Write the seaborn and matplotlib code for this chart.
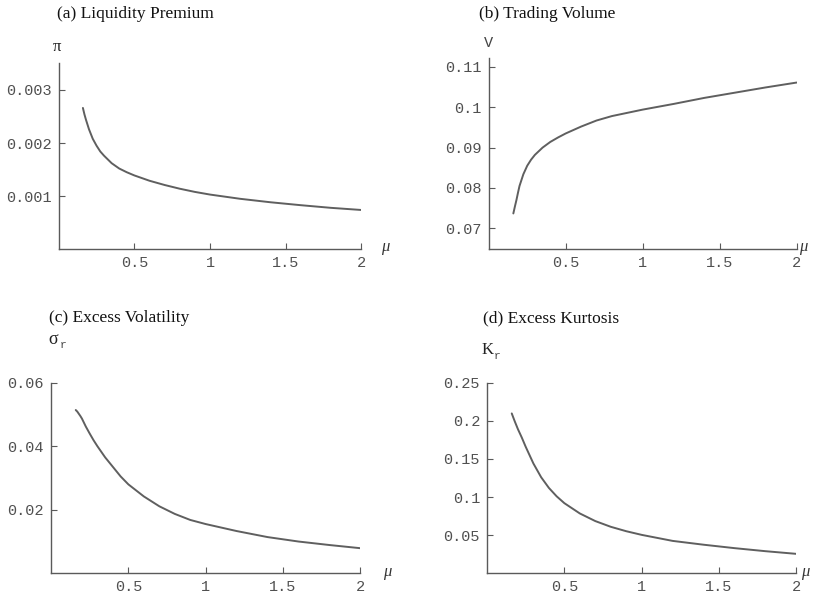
import numpy as np
import pandas as pd
import seaborn as sns
import matplotlib.pyplot as plt

# ---------------- data ----------------
mu = [0.16, 0.17, 0.18, 0.19, 0.2, 0.225, 0.25, 0.275, 0.3, 0.35, 0.4, 0.45, 0.5,
      0.6, 0.7, 0.8, 0.9, 1.0, 1.2, 1.4, 1.6, 1.8, 2.0]

liquidity_premium = [0.00266, 0.00254, 0.00244, 0.00235, 0.00226, 0.00208, 0.00195,
                     0.00184, 0.00176, 0.00162, 0.00152, 0.00145, 0.00139, 0.00129,
                     0.00121, 0.00114, 0.00108, 0.00103, 0.00095, 0.000885, 0.00083,
                     0.00078, 0.00074]

trading_volume = [0.0737, 0.0754, 0.0770, 0.0788, 0.0805, 0.0834, 0.0855, 0.0870,
                  0.0882, 0.0900, 0.0914, 0.0925, 0.0935, 0.0952, 0.0967, 0.0978,
                  0.0986, 0.0994, 0.1008, 0.1023, 0.1036, 0.1049, 0.1061]

excess_volatility = [0.0514, 0.0509, 0.0502, 0.0495, 0.0487, 0.0462, 0.0440, 0.0419,
                     0.0400, 0.0365, 0.0335, 0.0305, 0.0280, 0.0242, 0.0211, 0.0187,
                     0.0168, 0.0155, 0.0133, 0.0114, 0.0100, 0.0089, 0.0079]

excess_kurtosis = [0.2097, 0.2043, 0.199, 0.194, 0.189, 0.178, 0.166, 0.155, 0.144,
                   0.126, 0.112, 0.101, 0.092, 0.0785, 0.0685, 0.0610, 0.0552,
                   0.0504, 0.0425, 0.0375, 0.0330, 0.0290, 0.0255]

x_ticks = [0.5, 1, 1.5, 2]
x_ticklabels = ["0.5", "1", "1.5", "2"]

titles = ["(a) Liquidity Premium", "(b) Trading Volume",
          "(c) Excess Volatility", "(d) Excess Kurtosis"]

y_ticks = [[0.001, 0.002, 0.003],
           [0.07, 0.08, 0.09, 0.1, 0.11],
           [0.02, 0.04, 0.06],
           [0.05, 0.1, 0.15, 0.2, 0.25]]
y_ticklabels = [["0.001", "0.002", "0.003"],
                ["0.07", "0.08", "0.09", "0.1", "0.11"],
                ["0.02", "0.04", "0.06"],
                ["0.05", "0.1", "0.15", "0.2", "0.25"]]
y_limits = [(0, 0.0035), (0.0649, 0.1121), (0, 0.06), (0, 0.25)]

series = [liquidity_premium, trading_volume, excess_volatility, excess_kurtosis]

# ---------------- layout (pixels) ----------------
W, H = 825, 595
# left, right, top, bottom of each axes box in pixels
boxes = [(58.7, 361.3, 63.3, 249.3),
         (488.7, 796.7, 58.3, 249.0),
         (51.0, 360.4, 382.7, 573.3),
         (487.0, 796.4, 382.7, 573.3)]
title_pos = [(57, 14), (479, 14), (49, 318), (483, 318)]
mu_pos = [(385, 247), (803, 247), (387, 572), (805, 572)]

sns.set_style("ticks")
plt.rcParams["font.family"] = ["DejaVu Sans"]

line_col = "#5f5f5f"
axis_col = "#5a5a5a"
tick_font = "Liberation Mono"
serif = "Liberation Serif"

fig = plt.figure(figsize=(W / 100, H / 100), dpi=100)


def fx(x):
    return x / W


def fy(y):
    return 1 - y / H


for i in range(4):
    l, r, t, b = boxes[i]
    ax = fig.add_axes([fx(l), fy(b), (r - l) / W, (b - t) / H])
    df = pd.DataFrame({"mu": mu, "val": series[i]})
    sns.lineplot(data=df, x="mu", y="val", ax=ax, color=line_col, linewidth=1.4)

    ax.set_xlim(0, 2)
    ax.set_ylim(*y_limits[i])
    ax.set_xticks(x_ticks)
    ax.set_xticklabels(x_ticklabels)
    ax.set_yticks(y_ticks[i])
    ax.set_yticklabels(y_ticklabels[i])
    ax.set_xlabel("")
    ax.set_ylabel("")
    sns.despine(ax=ax)
    for s in ["left", "bottom"]:
        ax.spines[s].set_color(axis_col)
        ax.spines[s].set_linewidth(1.0)
    ax.tick_params(direction="in", length=4, width=0.8, color=axis_col,
                   labelcolor="#505050", pad=5)
    for lab in ax.get_xticklabels() + ax.get_yticklabels():
        lab.set_fontfamily(tick_font)
        lab.set_fontsize(11)
    ax.patch.set_alpha(0)

    tx, ty = title_pos[i]
    fig.text(fx(tx), fy(ty), titles[i], family=serif, fontsize=12.5,
             ha="left", va="center", color="#111111")
    mx, my = mu_pos[i]
    fig.text(fx(mx), fy(my), "μ", family=serif, style="italic", fontsize=12,
             ha="center", va="center", color="#333333")

# y-axis symbols
fig.text(fx(57), fy(47), "π", family=serif, fontsize=12, ha="center", va="center", color="#222222")
fig.text(fx(488), fy(43), "V", family=tick_font, fontsize=11, ha="center", va="center", color="#444444")
fig.text(fx(53), fy(340), "σ", family=serif, fontsize=13, ha="center", va="center", color="#222222")
fig.text(fx(60), fy(345), "r", family=tick_font, fontsize=8, ha="left", va="center", color="#444444")
fig.text(fx(488), fy(350), "K", family=serif, fontsize=12, ha="center", va="center", color="#222222")
fig.text(fx(494), fy(356), "r", family=tick_font, fontsize=8, ha="left", va="center", color="#444444")

plt.savefig("out.png", dpi=100)
plt.close()
